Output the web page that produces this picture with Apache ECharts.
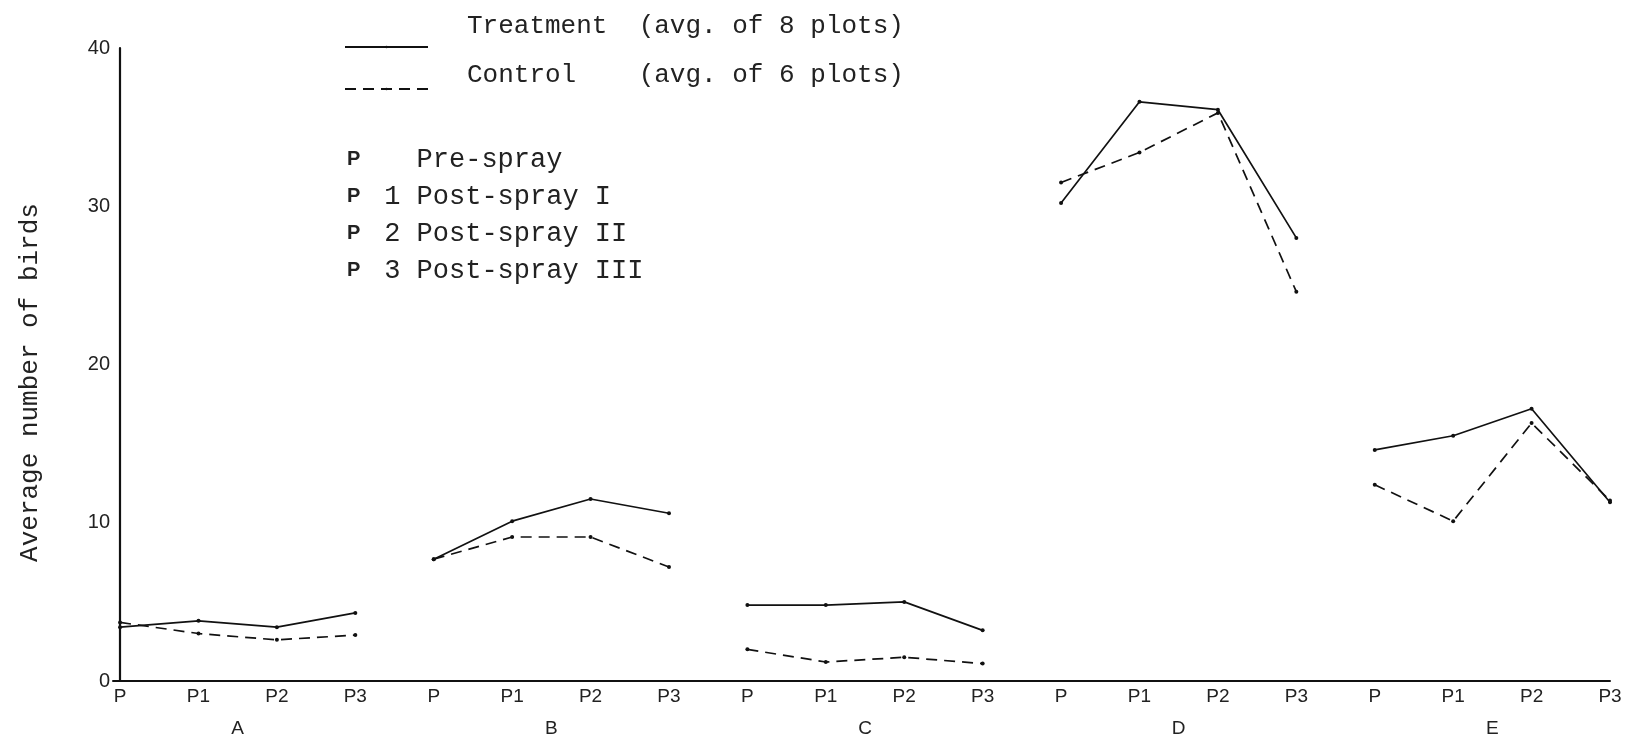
<!DOCTYPE html>
<html><head><meta charset="utf-8">
<script src="https://cdn.jsdelivr.net/npm/echarts@6/dist/echarts.min.js"></script>
<style>html,body{margin:0;padding:0;background:#fff}#c{width:1634px;height:738px}</style>
</head><body><div id="c"></div>
<script>
const groups = ['A', 'B', 'C', 'D', 'E'];
const stages = ['P', 'P1', 'P2', 'P3'];
const treatment = [
  [3.4, 3.8, 3.4, 4.3],
  [7.7, 10.1, 11.5, 10.6],
  [4.8, 4.8, 5.0, 3.2],
  [30.2, 36.6, 36.1, 28.0],
  [14.6, 15.5, 17.2, 11.3]
];
const control = [
  [3.7, 3.0, 2.6, 2.9],
  [7.7, 9.1, 9.1, 7.2],
  [2.0, 1.2, 1.5, 1.1],
  [31.5, 33.4, 35.9, 24.6],
  [12.4, 10.1, 16.3, 11.4]
];
const yTicks = [0, 10, 20, 30, 40];
const seriesNames = ['Treatment  (avg. of 8 plots)', 'Control    (avg. of 6 plots)'];
const stageNotes = [['', 'Pre-spray'], ['1', 'Post-spray I'], ['2', 'Post-spray II'], ['3', 'Post-spray III']];
const yAxisTitle = 'Average number of birds';

const MONO = "'Liberation Mono', 'DejaVu Sans Mono', monospace";
const SANS = "'Liberation Sans', Arial, sans-serif";
const INK = '#111';
const TXT = '#222';

const tickLabels = [];
groups.forEach(() => stages.forEach(s => tickLabels.push(s)));
const tickPos = tickLabels.map((_, i) => i);
const groupPos = groups.map((_, g) => g * stages.length + (stages.length - 1) / 2);

function mk(name, vals, g, dashed) {
  return {
    type: 'line', name: name,
    data: vals.map((v, j) => [g * stages.length + j, v]),
    symbol: 'circle', symbolSize: 4, clip: false, animation: false,
    lineStyle: { color: INK, width: 1.7, type: dashed ? [11, 7] : 'solid' },
    itemStyle: { color: INK }
  };
}
const series = [];
groups.forEach((_, g) => {
  series.push(mk(seriesNames[0], treatment[g], g, false));
  series.push(mk(seriesNames[1], control[g], g, true));
});

const legendBase = {
  left: 339, orient: 'horizontal', itemWidth: 83, itemHeight: 3, selectedMode: false,
  formatter: name => name + '\n '
};

const chart = echarts.init(document.getElementById('c'), null, { renderer: 'canvas' });
chart.setOption({
  backgroundColor: '#fff',
  animation: false,
  title: {
    left: 342, top: 136,
    text: stageNotes.map(([n, t]) => '{p|P}{t| ' + (n || ' ') + ' ' + t + '}').join('\n'),
    textStyle: {
      fontWeight: 'normal',
      rich: {
        p: { fontFamily: SANS, fontSize: 20, fontWeight: 'bold', color: TXT, lineHeight: 37, width: 21 },
        t: { fontFamily: MONO, fontSize: 27, fontWeight: 'normal', color: TXT, lineHeight: 37 }
      }
    }
  },
  legend: [
    Object.assign({}, legendBase, {
      data: [seriesNames[0]], top: 0,
      textStyle: { fontFamily: MONO, fontSize: 26, color: TXT, lineHeight: 42, padding: [0, 0, 0, 34] }
    }),
    Object.assign({}, legendBase, {
      data: [seriesNames[1]], top: 56,
      textStyle: { fontFamily: MONO, fontSize: 26, color: TXT, lineHeight: 28, padding: [0, 0, 0, 34] }
    })
  ],
  grid: { left: 113, right: 24, top: 48, bottom: 57, containLabel: false },
  xAxis: [
    {
      type: 'value', min: -0.09, max: tickLabels.length - 1, position: 'bottom',
      axisLine: { show: true, lineStyle: { color: INK, width: 2 } },
      axisTick: { show: false }, splitLine: { show: false },
      axisLabel: {
        customValues: tickPos, margin: 6, fontSize: 19, fontFamily: SANS, color: TXT,
        formatter: v => tickLabels[Math.round(v)]
      }
    },
    {
      type: 'value', min: -0.09, max: tickLabels.length - 1, position: 'bottom',
      axisLine: { show: false }, axisTick: { show: false }, splitLine: { show: false },
      axisLabel: {
        customValues: groupPos, margin: 38, fontSize: 19, fontFamily: SANS, color: TXT,
        formatter: v => groups[Math.floor(v / stages.length)]
      }
    }
  ],
  yAxis: {
    type: 'value', min: yTicks[0], max: yTicks[yTicks.length - 1], interval: yTicks[1] - yTicks[0],
    axisLine: { show: true, lineStyle: { color: INK, width: 2.2 } },
    axisTick: { show: false }, splitLine: { show: false },
    axisLabel: { margin: 3, fontSize: 20, fontFamily: SANS, color: TXT },
    name: yAxisTitle, nameLocation: 'middle', nameGap: 70,
    nameTextStyle: { fontFamily: MONO, fontSize: 26, color: TXT, padding: [0, 36, 0, 0] }
  },
  series: series
});
</script>
</body></html>
